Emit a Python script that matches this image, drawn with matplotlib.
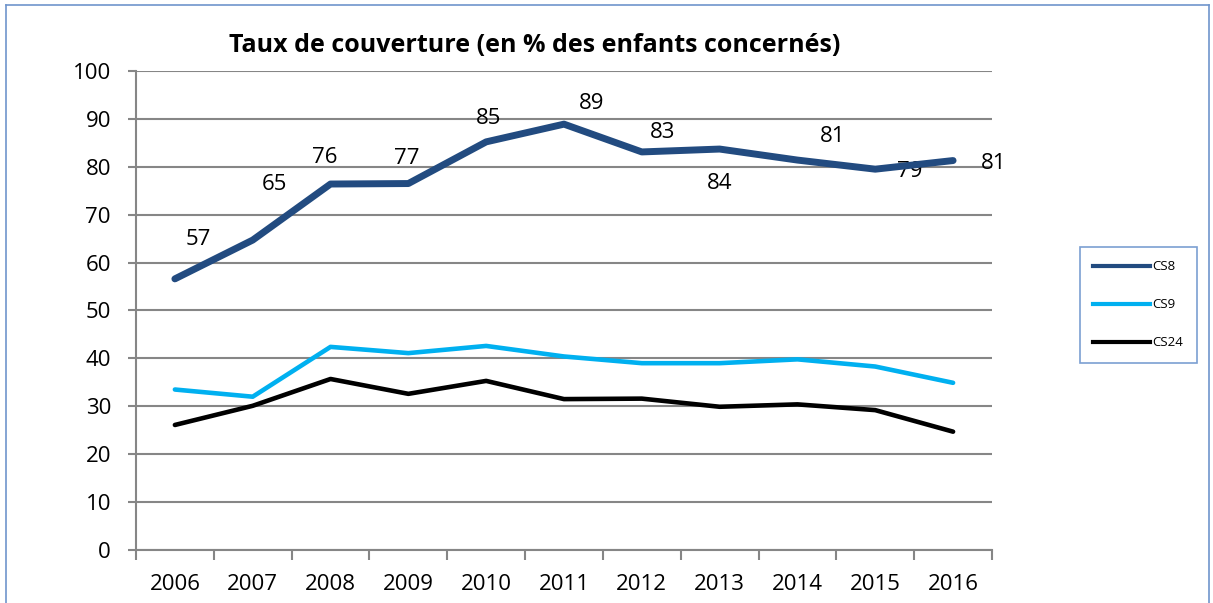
import numpy as np
import matplotlib.pyplot as plt
from matplotlib.lines import Line2D

plt.rcParams['font.family'] = ['Open Sans', 'DejaVu Sans']

# Data
years = ['2006', '2007', '2008', '2009', '2010', '2011',
         '2012', '2013', '2014', '2015', '2016']
cs8 = [56.6, 64.7, 76.4, 76.5, 85.2, 88.9, 83.1, 83.7, 81.4, 79.5, 81.3]
cs9 = [33.5, 32.0, 42.4, 41.1, 42.6, 40.4, 39.0, 39.0, 39.8, 38.3, 34.9]
cs24 = [26.1, 30.1, 35.7, 32.6, 35.3, 31.5, 31.6, 29.9, 30.4, 29.2, 24.7]
cs8_labels = ['57', '65', '76', '77', '85', '89', '83', '84', '81', '79', '81']

# label offsets in points (dx, dy) relative to each CS8 point
label_offsets = [(17, 28), (16, 40), (-4, 19), (-1, 18), (2, 17), (20, 15),
                 (15, 14), (0, -25), (25, 17), (25, -2), (29, -2)]

fig = plt.figure(figsize=(12.13, 6.03), dpi=100)
ax = fig.add_axes([0.1121, 0.0879, 0.7057, 0.7944])

x = np.arange(len(years))
ax.plot(x, cs24, color='black', lw=3.3, solid_capstyle='round', label='CS24', zorder=3)
ax.plot(x, cs9, color='#00B0F0', lw=3.3, solid_capstyle='round', label='CS9', zorder=3)
ax.plot(x, cs8, color='#224B80', lw=5.0, solid_capstyle='round', label='CS8', zorder=4)

for xi, yi, s, (dx, dy) in zip(x, cs8, cs8_labels, label_offsets):
    ax.annotate(s, (xi, yi), xytext=(dx, dy), textcoords='offset points',
                ha='center', va='center', fontsize=16, color='black')

ax.set_xlim(-0.5, len(years) - 0.5)
ax.set_ylim(0, 100)
ax.set_yticks(np.arange(0, 101, 10))
ax.set_xticks(x)
ax.set_xticklabels(years)
ax.set_xticks(np.arange(-0.5, len(years), 1), minor=True)
ax.tick_params(axis='x', which='major', length=0, labelsize=16, pad=17)
ax.tick_params(axis='x', which='minor', length=7, width=1.5, color='#868686')
ax.tick_params(axis='y', length=6, width=1.5, color='#868686', labelsize=16, pad=12)

ax.grid(axis='y', color='#868686', lw=1.5)
ax.set_axisbelow(True)
for side in ['top', 'right']:
    ax.spines[side].set_visible(False)
for side in ['left', 'bottom']:
    ax.spines[side].set_color('#868686')
    ax.spines[side].set_linewidth(1.5)

fig.text(535 / 1213, 1 - 45 / 603, 'Taux de couverture (en % des enfants concernés)',
         ha='center', va='center', fontsize=18, fontweight='bold')

handles = [Line2D([], [], color='#224B80', lw=3),
           Line2D([], [], color='#00B0F0', lw=3),
           Line2D([], [], color='black', lw=3)]
leg = fig.legend(handles, ['CS8', 'CS9', 'CS24'], loc='upper left',
                 bbox_to_anchor=(1080 / 1213, 1 - 247 / 603), fontsize=9.5,
                 frameon=True, fancybox=False, handlelength=4.3,
                 labelspacing=1.9, borderpad=1.0, handletextpad=0.2,
                 borderaxespad=0)
leg.get_frame().set_edgecolor('#5B87C7')
leg.get_frame().set_linewidth(1.2)

# outer chart frame
border = '#6F95CC'
fig.add_artist(Line2D([6 / 1213, 6 / 1213], [0, 1 - 5 / 603], color=border, lw=1.2))
fig.add_artist(Line2D([6 / 1213, 1209 / 1213], [1 - 5 / 603, 1 - 5 / 603], color=border, lw=1.2))
fig.add_artist(Line2D([1209 / 1213, 1209 / 1213], [0, 1 - 5 / 603], color=border, lw=1.2))

plt.savefig('out.png', dpi=100)
